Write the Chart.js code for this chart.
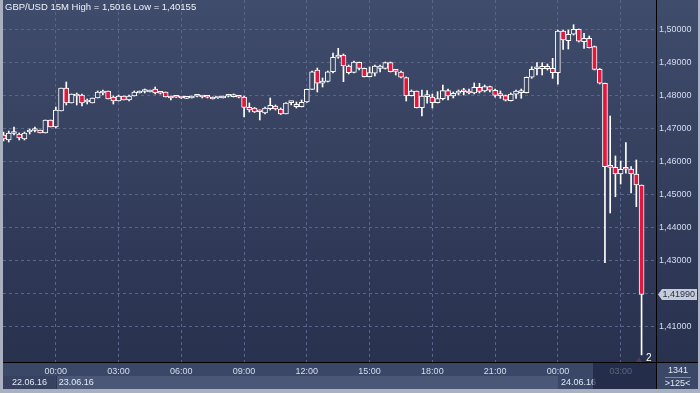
<!DOCTYPE html>
<html>
<head>
<meta charset="utf-8">
<script src="https://cdn.jsdelivr.net/npm/chart.js@4.4.1/dist/chart.umd.min.js"></script>
<style>
	html, body { margin: 0; padding: 0; background: #29324f; }
	#grafico { display: block; }
</style>
</head>
<body>
<canvas id="grafico" width="700" height="393"></canvas>
<script>
// GBP/USD 15 min, 22.06.16 21:30 -> 24.06.16 04:00
const symbol = 'GBP/USD';
const period = '15M';

const open = [
	1.46818, 1.46667, 1.46864, 1.46848, 1.46697, 1.46909, 1.46955, 1.46970, 1.46879, 1.47273,
	1.47061, 1.47545, 1.48242, 1.47788, 1.48000, 1.48030, 1.47818, 1.47788, 1.47939, 1.48091,
	1.48152, 1.47970, 1.47848, 1.48000, 1.47879, 1.48000, 1.48091, 1.48136, 1.48121, 1.48212,
	1.48091, 1.48121, 1.48000, 1.47970, 1.47948, 1.47939, 1.47939, 1.48000, 1.47979, 1.47970,
	1.47970, 1.47939, 1.47939, 1.48000, 1.47985, 1.47970, 1.47970, 1.47658, 1.47636, 1.47530,
	1.47485, 1.47615, 1.47697, 1.47606, 1.47455, 1.47803, 1.47748, 1.47676, 1.47818, 1.48203,
	1.48788, 1.48385, 1.48445, 1.48736, 1.49173, 1.49242, 1.48909, 1.48718, 1.49021, 1.48839,
	1.48585, 1.48688, 1.48839, 1.48839, 1.49009, 1.48758, 1.48727, 1.48555, 1.48009, 1.48152,
	1.47645, 1.47985, 1.47970, 1.47797, 1.47918, 1.48161, 1.48000, 1.48082, 1.48136, 1.48152,
	1.48091, 1.48264, 1.48152, 1.48282, 1.48173, 1.48015, 1.48009, 1.47858, 1.48052, 1.48100,
	1.48100, 1.48567, 1.48833, 1.48827, 1.48900, 1.48839, 1.48706, 1.49970, 1.49676, 1.49870,
	1.50021, 1.49645, 1.49748, 1.49494, 1.48809, 1.48385, 1.45848, 1.45839, 1.45636, 1.45788,
	1.45788, 1.45636, 1.45303
];
const high = [
	1.46909, 1.46939, 1.47061, 1.46879, 1.46909, 1.47000, 1.47061, 1.46970, 1.47273, 1.47273,
	1.47667, 1.48242, 1.48424, 1.48061, 1.48091, 1.48061, 1.47909, 1.47939, 1.48152, 1.48182,
	1.48152, 1.48000, 1.48030, 1.48000, 1.48030, 1.48152, 1.48152, 1.48212, 1.48182, 1.48273,
	1.48121, 1.48121, 1.48000, 1.47985, 1.47955, 1.47955, 1.48000, 1.48015, 1.48000, 1.47985,
	1.47970, 1.47955, 1.48000, 1.48015, 1.48061, 1.47985, 1.48000, 1.47788, 1.47652, 1.47576,
	1.47667, 1.47939, 1.47727, 1.47636, 1.47803, 1.47848, 1.47818, 1.47879, 1.48212, 1.48758,
	1.48848, 1.48545, 1.48758, 1.49303, 1.49445, 1.49273, 1.48939, 1.49061, 1.49030, 1.48848,
	1.48879, 1.48939, 1.48939, 1.49030, 1.49030, 1.48788, 1.48758, 1.48576, 1.48182, 1.48152,
	1.48182, 1.48161, 1.48061, 1.48130, 1.48333, 1.48212, 1.48121, 1.48182, 1.48233, 1.48212,
	1.48394, 1.48385, 1.48333, 1.48303, 1.48212, 1.48152, 1.48030, 1.48091, 1.48182, 1.48212,
	1.48576, 1.48888, 1.49009, 1.49009, 1.48970, 1.49142, 1.50000, 1.50000, 1.50000, 1.50160,
	1.50030, 1.49900, 1.49818, 1.49515, 1.48833, 1.48394, 1.47394, 1.46182, 1.46030, 1.46585,
	1.45858, 1.46061, 1.45303
];
const low = [
	1.46636, 1.46606, 1.46818, 1.46667, 1.46667, 1.46848, 1.46909, 1.46879, 1.46879, 1.47061,
	1.47030, 1.47545, 1.47727, 1.47788, 1.47727, 1.47697, 1.47758, 1.47788, 1.47939, 1.48030,
	1.47909, 1.47758, 1.47848, 1.47879, 1.47848, 1.48000, 1.48091, 1.48091, 1.48121, 1.48061,
	1.48061, 1.47970, 1.47879, 1.47955, 1.47924, 1.47924, 1.47939, 1.47970, 1.47939, 1.47939,
	1.47909, 1.47924, 1.47939, 1.47970, 1.47970, 1.47939, 1.47364, 1.47515, 1.47500, 1.47273,
	1.47455, 1.47576, 1.47576, 1.47439, 1.47455, 1.47727, 1.47636, 1.47667, 1.47803, 1.48197,
	1.48121, 1.48273, 1.48424, 1.48697, 1.49142, 1.48433, 1.48667, 1.48697, 1.48788, 1.48576,
	1.48576, 1.48606, 1.48727, 1.48818, 1.48727, 1.48636, 1.48545, 1.47848, 1.48000, 1.47636,
	1.47394, 1.47779, 1.47636, 1.47788, 1.47879, 1.47879, 1.47939, 1.48030, 1.48030, 1.48061,
	1.48061, 1.48091, 1.48121, 1.48121, 1.47961, 1.47930, 1.47848, 1.47848, 1.47930, 1.47930,
	1.48091, 1.48536, 1.48636, 1.48636, 1.48788, 1.48536, 1.48355, 1.49415, 1.49424, 1.49848,
	1.49636, 1.49445, 1.49455, 1.48788, 1.48364, 1.42948, 1.44455, 1.44948, 1.45333, 1.45658,
	1.45061, 1.44645, 1.40155
];
const close = [
	1.46697, 1.46879, 1.46879, 1.46727, 1.46879, 1.46970, 1.46970, 1.46879, 1.47273, 1.47061,
	1.47576, 1.48242, 1.47788, 1.48061, 1.48061, 1.47788, 1.47833, 1.47939, 1.48121, 1.48106,
	1.47909, 1.47848, 1.48000, 1.47879, 1.48000, 1.48121, 1.48152, 1.48152, 1.48182, 1.48091,
	1.48082, 1.47970, 1.47939, 1.47961, 1.47939, 1.47930, 1.48000, 1.47991, 1.47970, 1.47961,
	1.47909, 1.47948, 1.48000, 1.47991, 1.47979, 1.47961, 1.47652, 1.47576, 1.47515, 1.47524,
	1.47636, 1.47718, 1.47606, 1.47455, 1.47788, 1.47797, 1.47676, 1.47809, 1.48203, 1.48736,
	1.48385, 1.48455, 1.48736, 1.49173, 1.49242, 1.48909, 1.48706, 1.49030, 1.48839, 1.48585,
	1.48706, 1.48909, 1.48909, 1.49009, 1.48736, 1.48748, 1.48567, 1.48009, 1.48152, 1.47645,
	1.48000, 1.47979, 1.47797, 1.47918, 1.48161, 1.48000, 1.48082, 1.48152, 1.48130, 1.48091,
	1.48264, 1.48142, 1.48282, 1.48173, 1.48021, 1.48009, 1.47870, 1.48061, 1.48152, 1.48161,
	1.48567, 1.48809, 1.48827, 1.48900, 1.48827, 1.48706, 1.49970, 1.49697, 1.49870, 1.50021,
	1.49658, 1.49748, 1.49464, 1.48809, 1.48385, 1.45858, 1.45839, 1.45636, 1.45779, 1.45779,
	1.45636, 1.45303, 1.41990
];

// eixo do tempo: posicao do candle (indice) e texto
const tickIndex = [10, 22, 34, 46, 58, 70, 82, 94, 106, 118];
const tickLabels = ['00:00', '03:00', '06:00', '09:00', '12:00', '15:00', '18:00', '21:00', '00:00', '03:00'];
const dateLabels = ['22.06.16', '23.06.16', '24.06.16'];
const priceTicks = [1.41, 1.42, 1.43, 1.44, 1.45, 1.46, 1.47, 1.48, 1.49, 1.50];
const barsCount = '1341';
const zoomText = '>125<';
const markerText = '2';

const fonte = '"Liberation Sans", Arial, sans-serif';
const fmt = (v, d) => v.toFixed(d).replace('.', ',');

document.addEventListener('DOMContentLoaded', function () {
	const canvas = document.getElementById('grafico');
	const ctx = canvas.getContext('2d');

	const fundo = ctx.createLinearGradient(0, 0, 0, 363);
	fundo.addColorStop(0, '#404c6c');
	fundo.addColorStop(1, '#28314e');

	const corpos = open.map((o, i) => ({ x: i, y: [o, close[i]] }));
	const pavios = high.map((h, i) => ({ x: i, y: [low[i], h] }));
	const corCorpo = open.map((o, i) => (close[i] < o ? '#e3173d' : fundo));
	const ultimo = close[close.length - 1];

	const decoracao = {
		id: 'decoracao',
		beforeDraw(chart) {
			const c = chart.ctx;
			const a = chart.chartArea;
			const xs = chart.scales.x;
			const d1 = xs.getPixelForValue(tickIndex[0]);
			const d2 = xs.getPixelForValue(tickIndex[8]);
			c.save();
			c.fillStyle = fundo;
			c.fillRect(0, 0, 700, 393);
			c.fillStyle = '#3b4767';
			c.fillRect(0, a.bottom, 700, 26);
			c.fillStyle = '#36425f';
			c.fillRect(a.left, a.bottom + 13, d1 - a.left, 13);
			c.fillStyle = '#4b5777';
			c.fillRect(d1, a.bottom + 13, d2 - d1, 13);
			c.restore();
		},
		afterDraw(chart) {
			const c = chart.ctx;
			const a = chart.chartArea;
			const xs = chart.scales.x;
			const ys = chart.scales.y;
			const d1 = xs.getPixelForValue(tickIndex[0]);
			const d2 = xs.getPixelForValue(tickIndex[8]);
			c.save();
			c.font = '9px ' + fonte;
			c.textBaseline = 'middle';

			// datas
			c.fillStyle = '#e2e9f5';
			c.textAlign = 'center';
			c.fillText(dateLabels[0], (a.left + d1) / 2, a.bottom + 19.5);
			c.textAlign = 'left';
			c.fillText(dateLabels[1], d1 + 3, a.bottom + 19.5);
			c.fillText(dateLabels[2], d2 + 3, a.bottom + 19.5);
			c.fillStyle = '#2c3652';
			c.fillRect(Math.round(d1), a.bottom + 13, 1, 13);

			// area escura do rodape (scroll)
			c.fillStyle = 'rgba(24, 32, 58, 0.65)';
			c.fillRect(593, a.bottom, a.right - 593, 26);

			// linhas pretas
			c.fillStyle = '#000000';
			c.fillRect(a.left, a.bottom - 1, 700 - a.left, 1);
			c.fillRect(a.right, 0, 1, 389);

			// moldura
			c.fillStyle = '#a9b1c1';
			c.fillRect(0, 0, 3, 393);
			c.fillRect(0, 389, 700, 4);
			c.fillRect(698, 0, 2, 393);

			// painel direito do rodape
			c.fillStyle = '#e2e9f5';
			c.textAlign = 'center';
			c.fillText(barsCount, 678, a.bottom + 8);
			c.fillText(zoomText, 677.5, a.bottom + 20.5);
			c.fillStyle = '#7d8bab';
			c.fillRect(665, a.bottom + 14, 26, 1);

			// marcador "2"
			c.fillStyle = '#4c3d58';
			c.beginPath();
			c.moveTo(636, a.bottom - 1);
			c.lineTo(639, a.bottom - 6);
			c.lineTo(642, a.bottom - 1);
			c.closePath();
			c.fill();
			c.fillStyle = '#ffffff';
			c.font = '10px ' + fonte;
			c.textAlign = 'left';
			c.fillText(markerText, 646, a.bottom - 5);

			// titulo
			c.font = '9.5px ' + fonte;
			c.fillStyle = '#eef2fa';
			c.fillText(symbol + ' ' + period + ' High = ' + fmt(Math.max(...high), 4) + ' Low = ' + fmt(Math.min(...low), 5), 5, 7.5);

			// etiqueta do ultimo preco
			const py = Math.round(ys.getPixelForValue(ultimo)) + 0.5;
			c.fillStyle = '#c6ccd8';
			c.beginPath();
			c.moveTo(a.right + 2, py);
			c.lineTo(a.right + 6, py - 5.5);
			c.lineTo(697, py - 5.5);
			c.lineTo(697, py + 5.5);
			c.lineTo(a.right + 6, py + 5.5);
			c.closePath();
			c.fill();
			c.fillStyle = '#24304a';
			c.font = '9px ' + fonte;
			c.fillText(fmt(ultimo, 5), a.right + 6.5, py);
			c.restore();
		}
	};

	const config = {
		type: 'bar',
		data: {
			datasets: [
				{
					label: 'Corpo',
					data: corpos,
					backgroundColor: corCorpo,
					borderColor: '#ffffff',
					borderWidth: 1,
					borderSkipped: false,
					minBarLength: 2,
					grouped: false,
					categoryPercentage: 1,
					barPercentage: 1,
					maxBarThickness: 5,
					order: 0,
				},
				{
					label: 'Pavio',
					data: pavios,
					backgroundColor: '#ffffff',
					borderWidth: 0,
					grouped: false,
					categoryPercentage: 1,
					barPercentage: 1,
					maxBarThickness: 1,
					order: 1,
				},
			],
		},
		options: {
			responsive: false,
			animation: false,
			devicePixelRatio: 1,
			events: [],
			layout: { padding: { left: 3, right: 0, top: 0, bottom: 0 } },
			plugins: {
				legend: { display: false },
				tooltip: { enabled: false },
			},
			scales: {
				x: {
					type: 'linear',
					min: -0.1,
					max: 124.76,
					offset: false,
					grid: { offset: false, color: '#59668a', lineWidth: 1, drawTicks: false },
					border: { display: false, dash: [3, 3] },
					ticks: {
						autoSkip: false,
						maxRotation: 0,
						padding: 3,
						color: '#d4def0',
						font: { family: fonte, size: 9 },
						callback: (v) => {
							const k = tickIndex.indexOf(v);
							return k < 0 ? '' : tickLabels[k];
						},
					},
					afterBuildTicks: (s) => { s.ticks = tickIndex.map((v) => ({ value: v })); },
					afterFit: (s) => { s.height = 30; s.paddingLeft = 0; s.paddingRight = 0; },
				},
				y: {
					position: 'right',
					min: 1.39909,
					max: 1.50909,
					grid: { color: '#59668a', lineWidth: 1, drawTicks: false },
					border: { display: false, dash: [3, 3] },
					ticks: {
						padding: 3,
						color: '#d4def0',
						font: { family: fonte, size: 9 },
						callback: (v) => (Math.abs(v - ultimo) < 0.003 ? '' : fmt(v, 5)),
					},
					afterBuildTicks: (s) => { s.ticks = priceTicks.map((v) => ({ value: v })); },
					afterFit: (s) => { s.width = 44; s.paddingTop = 0; s.paddingBottom = 0; },
				},
			},
		},
		plugins: [decoracao],
	};

	new Chart(ctx, config);
});
</script>
</body>
</html>
